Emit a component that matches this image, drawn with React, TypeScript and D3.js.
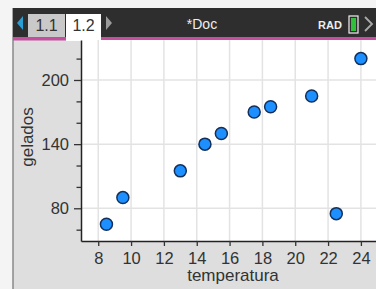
import React, { useEffect, useRef } from 'react';
import * as d3 from 'd3';

// temperatura / gelados
const temperatura = [8.5, 9.5, 13, 14.5, 15.5, 17.5, 18.5, 21, 22.5, 24];
const gelados = [65, 90, 115, 140, 150, 170, 175, 185, 75, 220];
const xTicks = [8, 10, 12, 14, 16, 18, 20, 22, 24];
const yMajor = [80, 140, 200];
const yMinor = [60, 100, 120, 160, 180, 220];

const FONT = '"Liberation Sans", Arial, sans-serif';

const App: React.FC = () => {
  const ref = useRef<SVGSVGElement | null>(null);

  useEffect(() => {
    if (!ref.current) return;
    const W = 376;
    const H = 289;
    const plot = { left: 81, top: 40, right: 420, bottom: 241 };

    const svg = d3.select(ref.current);
    svg.selectAll('*').remove();

    // page background
    svg.append('rect').attr('width', W).attr('height', H).attr('fill', '#f4f4f4');
    svg.append('rect').attr('x', 13).attr('y', 8).attr('width', W - 13).attr('height', H - 8).attr('fill', '#dedede');
    svg.append('line').attr('x1', 13).attr('x2', 13).attr('y1', 8).attr('y2', H)
      .attr('stroke', '#8a8a8a').attr('stroke-width', 1.5);

    // header bar
    svg.append('rect').attr('x', 13).attr('y', 8).attr('width', W - 13).attr('height', 30).attr('fill', '#2e2e2e');
    svg.append('rect').attr('x', 13).attr('y', 37).attr('width', W - 13).attr('height', 3.5).attr('fill', '#c44f9f');
    svg.append('path').attr('d', 'M17,23 L23,16 L23,30 Z').attr('fill', '#2a9fd6');
    svg.append('rect').attr('x', 28).attr('y', 14).attr('width', 37).attr('height', 23).attr('fill', '#c9c9c9');
    svg.append('rect').attr('x', 66).attr('y', 14).attr('width', 35).attr('height', 27).attr('fill', '#ffffff');
    svg.append('text').attr('x', 46.5).attr('y', 31).attr('text-anchor', 'middle')
      .attr('font-family', FONT).attr('font-size', 16).attr('fill', '#333').text('1.1');
    svg.append('text').attr('x', 83.5).attr('y', 31).attr('text-anchor', 'middle')
      .attr('font-family', FONT).attr('font-size', 16).attr('fill', '#333').text('1.2');
    svg.append('path').attr('d', 'M106,16 L112,23 L106,30 Z').attr('fill', '#9a9a9a');
    svg.append('text').attr('x', 202).attr('y', 29).attr('text-anchor', 'middle')
      .attr('font-family', FONT).attr('font-size', 14).attr('fill', '#eee').text('*Doc');
    svg.append('text').attr('x', 330).attr('y', 28.5).attr('text-anchor', 'middle')
      .attr('font-family', FONT).attr('font-size', 11).attr('font-weight', 'bold').attr('fill', '#eee').text('RAD');
    svg.append('rect').attr('x', 349).attr('y', 16).attr('width', 9).attr('height', 17)
      .attr('fill', 'none').attr('stroke', '#eee').attr('stroke-width', 1.2);
    svg.append('rect').attr('x', 351).attr('y', 18).attr('width', 5).attr('height', 13).attr('fill', '#2fbf3a');
    svg.append('path').attr('d', 'M365,17 L372,24 L365,31').attr('fill', 'none')
      .attr('stroke', '#aaa').attr('stroke-width', 1.8);

    // plot panel
    svg.append('rect').attr('x', plot.left).attr('y', plot.top)
      .attr('width', plot.right - plot.left).attr('height', plot.bottom - plot.top).attr('fill', '#fff');

    const x = d3.scaleLinear().domain([6.95, 27.6]).range([plot.left, plot.right]);
    const y = d3.scaleLinear().domain([49.4, 237.4]).range([plot.bottom, plot.top]);

    const g = svg.append('g');
    g.selectAll('line.vg').data(xTicks).enter().append('line')
      .attr('x1', d => x(d)).attr('x2', d => x(d)).attr('y1', plot.top).attr('y2', plot.bottom)
      .attr('stroke', '#e3e3e3').attr('stroke-width', 1.5);
    g.selectAll('line.hg').data(yMajor).enter().append('line')
      .attr('x1', plot.left).attr('x2', plot.right).attr('y1', d => y(d)).attr('y2', d => y(d))
      .attr('stroke', '#e3e3e3').attr('stroke-width', 1.5);

    // axes
    const yAxis = svg.append('g').attr('transform', `translate(${plot.left},0)`)
      .call(d3.axisLeft(y).tickValues(yMajor).tickSize(7).tickPadding(5).tickSizeOuter(0));
    svg.append('g').attr('transform', `translate(${plot.left},0)`)
      .call(d3.axisLeft(y).tickValues(yMinor).tickSize(4.5).tickFormat(() => '').tickSizeOuter(0))
      .call(s => s.select('.domain').remove());
    const xAxis = svg.append('g').attr('transform', `translate(0,${plot.bottom})`)
      .call(d3.axisBottom(x).tickValues(xTicks).tickSize(5).tickPadding(6).tickSizeOuter(0));

    [yAxis, xAxis].forEach(a => {
      a.selectAll('text').attr('font-family', FONT).attr('font-size', 16.5).attr('fill', '#333');
      a.select('.domain').attr('stroke', '#222').attr('stroke-width', 1.5);
    });
    svg.selectAll('.tick line').attr('stroke', '#333').attr('stroke-width', 1.3);

    svg.append('text').attr('x', 233).attr('y', 281).attr('text-anchor', 'middle')
      .attr('font-family', FONT).attr('font-size', 17).attr('fill', '#333').text('temperatura');
    svg.append('text').attr('transform', 'translate(33,137) rotate(-90)').attr('text-anchor', 'middle')
      .attr('font-family', FONT).attr('font-size', 17).attr('fill', '#333').text('gelados');

    // points
    svg.selectAll('circle.pt').data(temperatura).enter().append('circle')
      .attr('cx', d => x(d)).attr('cy', (_d, i) => y(gelados[i])).attr('r', 6)
      .attr('fill', '#1e8fff').attr('stroke', '#14305a').attr('stroke-width', 1.5);
  }, []);

  return <svg ref={ref} width={376} height={289} style={{ position: 'absolute', left: 0, top: 0 }} />;
};

export default App;
